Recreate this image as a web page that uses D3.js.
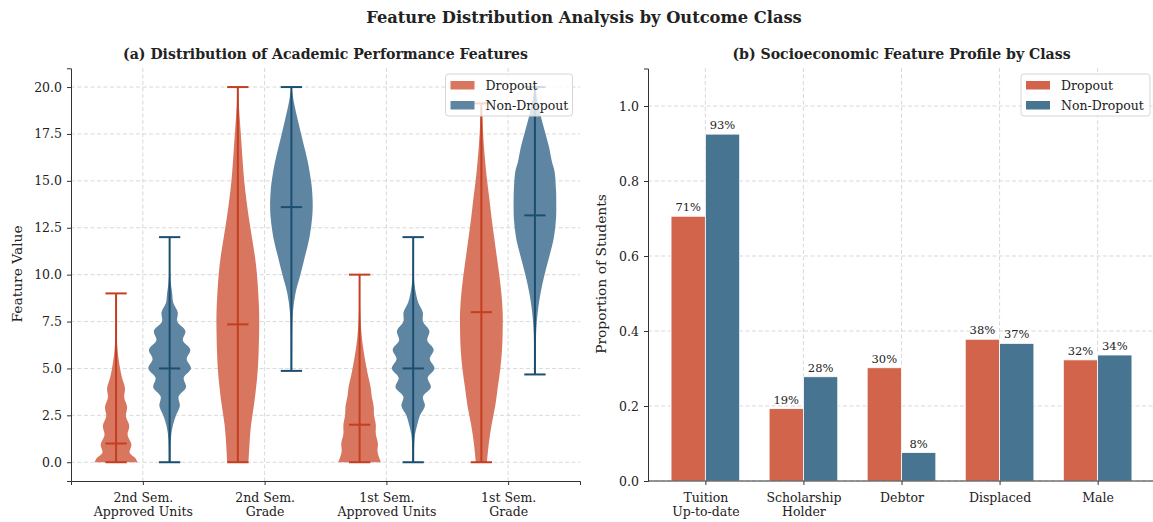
<!DOCTYPE html>
<html>
<meta charset="utf-8">
<style>
body{margin:0;background:#fff;}
svg text{font-family:"DejaVu Serif",serif;fill:#222;}
.grid line{stroke:#cfcfcf;stroke-dasharray:4,2.5;stroke-width:0.8;}
.axis path,.axis line{stroke:#333;}
.axis text{font-size:12.5px;fill:#222;font-family:"DejaVu Serif",serif;}
</style>
<body>
<svg width="1153" height="522"></svg>
<script src="https://d3js.org/d3.v7.min.js"></script>
<script>

// ---- data, left panel (violins) ----
var features = [["2nd Sem.","Approved Units"],["2nd Sem.","Grade"],["1st Sem.","Approved Units"],["1st Sem.","Grade"]];
var classes = ["Dropout","Non-Dropout"];
var yTicksA = [0,2.5,5,7.5,10,12.5,15,17.5,20];

// [min, max, median] per feature
var dropoutStats = [[0,9,1],[0,20,7.35],[0,10,2],[0,19.13,8.0]];
var nonDropoutStats = [[0,12,5],[4.87,20,13.6],[0,12,5],[4.68,20,13.16]];

// density outline: [value, relative half-width]
var dropoutDensity = [
  [[0,1.0],[0.2,0.92],[0.5,0.64],[0.95,0.72],[1.45,0.54],[1.95,0.62],[2.45,0.46],[2.95,0.52],[3.45,0.38],[3.95,0.42],[4.5,0.28],[5.0,0.19],[5.5,0.12],[6.0,0.07],[6.5,0.04],[7.0,0.02],[8.0,0.006],[9.0,0.002]],
  [[0,0.5],[1,0.55],[2,0.62],[3,0.75],[4,0.86],[5,0.94],[6,0.98],[7,1.0],[8,1.0],[9,0.96],[10,0.9],[11,0.8],[12,0.66],[13,0.52],[14,0.4],[15,0.3],[16,0.23],[17,0.17],[18,0.11],[19,0.05],[20,0.01]],
  [[0,1.0],[0.3,0.9],[0.6,0.84],[1.0,0.86],[1.5,0.76],[2.0,0.76],[2.5,0.68],[3.0,0.66],[3.5,0.57],[4.0,0.52],[4.5,0.42],[5.0,0.33],[5.5,0.25],[6.0,0.18],[6.5,0.12],[7.0,0.08],[7.5,0.05],[8.0,0.03],[9.0,0.01],[10,0.003]],
  [[0,0.26],[1,0.35],[2,0.48],[3,0.65],[4,0.77],[5,0.89],[6,0.97],[7,1.0],[8,1.0],[9,0.94],[10,0.84],[11,0.72],[12,0.6],[13,0.48],[14,0.38],[15,0.27],[16,0.18],[17,0.11],[18,0.06],[19,0.02],[19.13,0.01]]
];
var nonDropoutDensity = [
  [[0,0.04],[0.5,0.04],[1.0,0.05],[1.5,0.08],[2.0,0.16],[2.5,0.3],[3.0,0.48],[3.5,0.42],[4.0,0.77],[4.5,0.66],[5.0,1.0],[5.5,0.8],[6.0,0.97],[6.5,0.62],[7.0,0.74],[7.5,0.36],[8.0,0.38],[8.5,0.17],[9.0,0.12],[9.5,0.06],[10,0.03],[11,0.01],[12,0.004]],
  [[4.87,0.03],[6,0.035],[7,0.04],[8,0.07],[9,0.19],[10,0.42],[11,0.64],[12,0.85],[13,0.97],[13.7,1.0],[14.5,0.97],[15,0.92],[16,0.77],[17,0.56],[18,0.35],[19,0.15],[19.5,0.07],[20,0.01]],
  [[0,0.04],[0.5,0.04],[1.0,0.05],[1.5,0.09],[2.0,0.19],[2.5,0.32],[3.0,0.55],[3.5,0.46],[4.0,0.83],[4.5,0.68],[5.0,1.0],[5.5,0.78],[6.0,0.96],[6.5,0.66],[7.0,0.76],[7.5,0.46],[8.0,0.45],[8.5,0.24],[9.0,0.13],[9.5,0.06],[10,0.03],[11,0.01],[12,0.004]],
  [[4.68,0.03],[6,0.04],[7,0.06],[8,0.13],[9,0.26],[10,0.45],[11,0.68],[12,0.89],[13,0.99],[14,1.0],[14.5,0.99],[15.5,0.92],[16,0.8],[16.8,0.66],[17.7,0.45],[18.6,0.24],[19.4,0.1],[20,0.01]]
];

// ---- data, right panel (bars) ----
var socioLabels = [["Tuition","Up-to-date"],["Scholarship","Holder"],["Debtor"],["Displaced"],["Male"]];
var dropoutRates = [0.706,0.193,0.302,0.378,0.323];
var nonDropoutRates = [0.925,0.278,0.076,0.367,0.336];
var yTicksB = [0,0.2,0.4,0.6,0.8,1.0];

var violinFill = ["#d87660","#5e85a1"],
    violinLine = ["#c43e20","#1c4e70"],
    barFill = ["#d2644b","#477491"];

var svg = d3.select("svg");

// title
svg.append("text").attr("x",584).attr("y",23).attr("text-anchor","middle")
  .style("font-size","16.3px").style("font-weight","bold")
  .text("Feature Distribution Analysis by Outcome Class");

// ================= LEFT PANEL =================
var xA = d3.scaleLinear().domain([-0.59,3.59]).range([71,580]),
    yA = d3.scaleLinear().domain([-1,21]).range([481,68.3]);
var gA = svg.append("g");

gA.append("text").attr("x",325.5).attr("y",59).attr("text-anchor","middle")
  .style("font-size","14.1px").style("font-weight","bold")
  .text("(a) Distribution of Academic Performance Features");

// grid
var gridA = gA.append("g").attr("class","grid");
gridA.selectAll(".h").data(yTicksA).enter().append("line")
  .attr("x1",71).attr("x2",580).attr("y1",function(d){return yA(d);}).attr("y2",function(d){return yA(d);});
gridA.selectAll(".v").data(features).enter().append("line")
  .attr("y1",68).attr("y2",481).attr("x1",function(d,i){return xA(i);}).attr("x2",function(d,i){return xA(i);});

var vWidth = 0.35, vOffset = 0.22;

function drawViolin(pos, dens, stats, k){
  var half = vWidth/2;
  var area = d3.area().curve(d3.curveCatmullRom)
    .y(function(d){return yA(d[0]);})
    .x0(function(d){return xA(pos - half*d[1]);})
    .x1(function(d){return xA(pos + half*d[1]);});
  gA.append("path").datum(dens).attr("d",area).attr("fill",violinFill[k]);
  var cap = vWidth/4;
  var lines = [
    [pos,stats[0],pos,stats[1]],
    [pos-cap,stats[0],pos+cap,stats[0]],
    [pos-cap,stats[1],pos+cap,stats[1]],
    [pos-cap,stats[2],pos+cap,stats[2]]
  ];
  gA.selectAll(null).data(lines).enter().append("line")
    .attr("x1",function(d){return xA(d[0]);}).attr("y1",function(d){return yA(d[1]);})
    .attr("x2",function(d){return xA(d[2]);}).attr("y2",function(d){return yA(d[3]);})
    .attr("stroke",violinLine[k]).attr("stroke-width",2);
}

features.forEach(function(f,i){
  drawViolin(i - vOffset, dropoutDensity[i], dropoutStats[i], 0);
  drawViolin(i + vOffset, nonDropoutDensity[i], nonDropoutStats[i], 1);
});

// axes
gA.append("g").attr("class","axis").attr("transform","translate(71,0)")
  .call(d3.axisLeft(yA).tickValues(yTicksA).tickFormat(d3.format(".1f")).tickSizeOuter(0).tickSize(4).tickPadding(5));
var axA = gA.append("g").attr("class","axis").attr("transform","translate(0,481)")
  .call(d3.axisBottom(xA).tickValues([0,1,2,3]).tickFormat("").tickSizeOuter(0).tickSize(4));
axA.selectAll(".tick").append("text").attr("fill","#222").attr("text-anchor","middle")
  .each(function(d){
    var t = d3.select(this);
    features[d].forEach(function(s,j){
      t.append("tspan").attr("x",0).attr("y",21 + j*14).text(s);
    });
  });

gA.append("text").attr("transform","translate(22,274) rotate(-90)").attr("text-anchor","middle")
  .style("font-size","13.8px").text("Feature Value");

function legend(g, x, y, w, colors){
  var lg = g.append("g").attr("transform","translate("+x+","+y+")");
  lg.append("rect").attr("width",w).attr("height",42).attr("rx",3)
    .attr("fill","#fff").attr("fill-opacity",0.8).attr("stroke","#d6d6d6");
  classes.forEach(function(c,i){
    lg.append("rect").attr("x",5).attr("y",7 + i*20).attr("width",24).attr("height",8.5).attr("fill",colors[i]);
    lg.append("text").attr("x",40).attr("y",15.5 + i*20).style("font-size","12.5px").text(c);
  });
}
legend(gA, 445.5, 74, 127, violinFill);

// ================= RIGHT PANEL =================
var xB = d3.scaleLinear().domain([-0.585,4.585]).range([648,1155]),
    yB = d3.scaleLinear().domain([0,1.1]).range([481,68.5]);
var gB = svg.append("g");

gB.append("text").attr("x",901.5).attr("y",59).attr("text-anchor","middle")
  .style("font-size","14.1px").style("font-weight","bold")
  .text("(b) Socioeconomic Feature Profile by Class");

var gridB = gB.append("g").attr("class","grid");
gridB.selectAll(".h").data(yTicksB).enter().append("line")
  .attr("x1",648).attr("x2",1153).attr("y1",function(d){return yB(d);}).attr("y2",function(d){return yB(d);});
gridB.selectAll(".v").data(socioLabels).enter().append("line")
  .attr("y1",68).attr("y2",481).attr("x1",function(d,i){return xB(i);}).attr("x2",function(d,i){return xB(i);});

var bw = 0.35;
[dropoutRates, nonDropoutRates].forEach(function(rates,k){
  var off = k === 0 ? -bw/2 : bw/2;
  gB.selectAll(null).data(rates).enter().append("rect")
    .attr("x",function(d,i){return xB(i + off - bw/2);})
    .attr("width",xB(bw) - xB(0))
    .attr("y",function(d){return yB(d);})
    .attr("height",function(d){return yB(0) - yB(d);})
    .attr("fill",barFill[k]).attr("stroke","#ffffff").attr("stroke-width",0.8);
  gB.selectAll(null).data(rates).enter().append("text")
    .attr("x",function(d,i){return xB(i + off);})
    .attr("y",function(d){return yB(d) - 5;})
    .attr("text-anchor","middle").style("font-size","11.5px").attr("fill","#333")
    .text(function(d){return Math.round(d*100) + "%";});
});

gB.append("g").attr("class","axis").attr("transform","translate(648,0)")
  .call(d3.axisLeft(yB).tickValues(yTicksB).tickFormat(d3.format(".1f")).tickSizeOuter(0).tickSize(4).tickPadding(5));
gB.append("line").attr("x1",648).attr("x2",1153).attr("y1",481).attr("y2",481).attr("stroke","#333");
var axB = gB.append("g").attr("class","axis").attr("transform","translate(0,481)")
  .call(d3.axisBottom(xB).tickValues([0,1,2,3,4]).tickFormat("").tickSizeOuter(0).tickSize(4));
axB.select(".domain").remove();
axB.selectAll(".tick").append("text").attr("fill","#222").attr("text-anchor","middle")
  .each(function(d){
    var t = d3.select(this);
    socioLabels[d].forEach(function(s,j){
      t.append("tspan").attr("x",0).attr("y",21 + j*14).text(s);
    });
  });

gB.append("text").attr("transform","translate(606,274) rotate(-90)").attr("text-anchor","middle")
  .style("font-size","13.8px").text("Proportion of Students");

legend(gB, 1021, 74, 129, barFill);

</script>
</body>
</html>
